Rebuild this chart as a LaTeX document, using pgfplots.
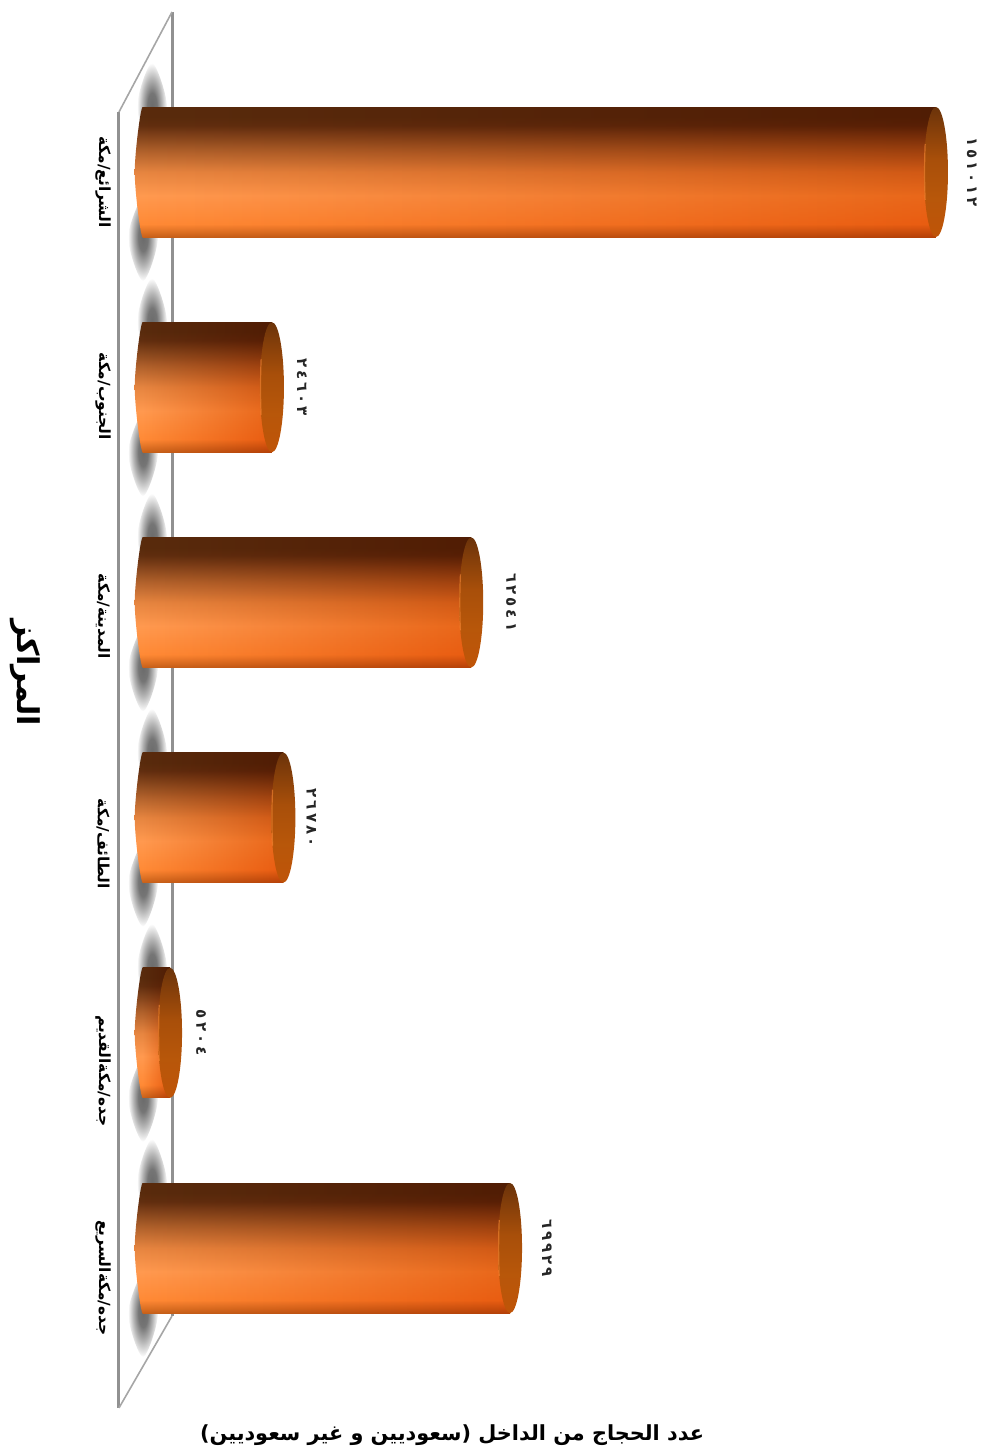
\documentclass[border=0pt]{standalone}
\usepackage{fontspec}
\usepackage{pgfplots}
\usepackage{pgfplotstable}
\pgfplotsset{compat=1.18}
\TeXXeTstate=1
\newfontfamily\arabicfont[Script=Arabic]{DejaVu Sans}
\newfontfamily\numfont[LetterSpace=20]{DejaVu Sans}
\newcommand{\ar}[1]{{\arabicfont\bfseries\beginR #1\endR}}

% 1 px of the reference = 0.5pt here
\pgfdeclareverticalshading{barshade}{100bp}{
  rgb(0bp)=(0.78,0.38,0.10);
  rgb(25bp)=(0.78,0.38,0.10);
  rgb(30bp)=(1.00,0.54,0.21);
  rgb(41bp)=(1.00,0.60,0.31);
  rgb(50bp)=(0.90,0.52,0.25);
  rgb(58bp)=(0.69,0.38,0.17);
  rgb(68bp)=(0.38,0.18,0.06);
  rgb(71bp)=(0.35,0.17,0.05);
  rgb(75bp)=(0.35,0.17,0.05);
  rgb(100bp)=(0.35,0.17,0.05)}
\pgfdeclareverticalshading{capshade}{100bp}{
  rgb(0bp)=(0.75,0.33,0.03);
  rgb(25bp)=(0.75,0.33,0.03);
  rgb(40bp)=(0.72,0.34,0.04);
  rgb(55bp)=(0.66,0.31,0.04);
  rgb(75bp)=(0.42,0.20,0.04);
  rgb(100bp)=(0.42,0.20,0.04)}
\pgfdeclareradialshading{blobshade}{\pgfpoint{0bp}{0bp}}{
  rgb(0bp)=(0.42,0.42,0.42);
  rgb(8bp)=(0.46,0.46,0.46);
  rgb(16bp)=(0.70,0.70,0.70);
  rgb(25bp)=(1,1,1);
  rgb(50bp)=(1,1,1)}

\newcommand{\capmark}{\tikz\path[draw=none, shading=capshade] (0,0) ellipse [x radius=6pt, y radius=32.5pt];}
\pgfdeclareplotmark{rim}{\draw[line width=0.6pt, color={rgb,1:red,1.0;green,0.55;blue,0.22}, opacity=0.55]
    (-5.4pt,-14pt) .. controls (-5.8pt,-5pt) and (-5.8pt,5pt) .. (-5.4pt,14pt);}

\pgfplotstableread{
v y lbl dx
151012 0 ١٥١٠١٢ 18
24603 1 ٢٤٦٠٣ 15
62541 2 ٦٢٥٤١ 20
26780 3 ٢٦٧٨٠ 14
5204 4 ٥٢٠٤ 15.5
69929 5 ٦٩٩٢٩ 18.5
}\datatable

% one column with the two floor shadows and the round foot under it;
% shapes start inside the column, where the seam of the curve stays hidden
\newcommand{\column}[2]{
  \pgfmathsetmacro\ya{#2-0.5065}\pgfmathsetmacro\yb{#2-0.302}\pgfmathsetmacro\yc{#2-0.0975}
  \pgfmathsetmacro\yd{#2+0.0975}\pgfmathsetmacro\ye{#2+0.302}\pgfmathsetmacro\yf{#2+0.5065}
  \addplot[smooth, draw=none, shading=blobshade] coordinates
    {(1770,\yc) (4626,\yb) (1770,\ya) (-1086,\yb) (1770,\yc)};
  \addplot[smooth, draw=none, shading=blobshade] coordinates
    {(57,\yd) (2913,\ye) (57,\yf) (-2799,\ye) (57,\yd)};
  \addplot[smooth, draw=none, shading=barshade] coordinates
    {(1523,#2) (0,\yb) (-1523,#2) (0,\ye) (1523,#2)};
  \addplot[xbar, bar width=65pt, draw=none, shading=barshade] coordinates {(#1,#2)};
  \addplot[xbar, bar width=65pt, draw=none, left color=white,
    right color={rgb,1:red,0.91;green,0.67;blue,0.32}, blend mode=multiply] coordinates {(#1,#2)};
}

\begin{document}
\begin{tikzpicture}
\path[use as bounding box] (-59.5pt,0) rectangle (435pt,726pt);
\begin{axis}[
  scale only axis,
  width=435pt, height=726pt,
  xmin=-4512, xmax=161108,
  ymin=-0.7993, ymax=5.948,
  y dir=reverse,
  clip=false,
  bar shift=0pt,
  axis line style={draw=none},
  tick style={draw=none},
  xtick=\empty,
  ytick={0,1,2,3,4,5},
  yticklabels={\hspace{10pt}\ar{الشرائع/مكة},\hspace{9pt}\ar{الجنوب/مكة},\hspace{14pt}\ar{المدينة/مكة},\hspace{26pt}\ar{الطائف/مكة},\hspace{38pt}\ar{جده/مكةالقديم},\hspace{30pt}\ar{جده/مكةالسريع}},
  yticklabel style={xshift=-8pt, rotate=-90, anchor=center, font=\fontsize{7.7}{9}\selectfont},
  every axis x label/.style={at={(axis description cs:0.3828,0.0076)}, anchor=base},
  every axis y label/.style={at={(axis description cs:-0.108,0.5366)}, anchor=center, rotate=-90},
  xlabel={\fontsize{10.4}{12}\selectfont\ar{عدد الحجاج من الداخل (سعوديين و غير سعوديين)}},
  ylabel={\fontsize{15}{17}\selectfont\ar{المراكز}},
  text mark as node=false,
]
% floor
\addplot[color=black!43, line width=1.5pt] coordinates {(5578,-0.7435) (5578,5.316)};
\addplot[color=black!43, line width=1.5pt] coordinates {(-4512,-0.279) (-4512,5.743)};
\addplot[color=black!35, line width=0.8pt] coordinates {(-4512,-0.279) (5578,-0.7435)};
\addplot[color=black!35, line width=0.8pt] coordinates {(-4512,5.743) (5578,5.316)};
% columns
\column{151012}{0}
\column{24603}{1}
\column{62541}{2}
\column{26780}{3}
\column{5204}{4}
\column{69929}{5}
\addplot[only marks, mark=text, text mark={\capmark},
  visualization depends on={\thisrow{dx} \as \dx},
  point meta=explicit symbolic,
  nodes near coords,
  every node near coord/.style={xshift=\dx pt, rotate=-90, anchor=center,
    font=\fontsize{7.5}{8}\selectfont\numfont\bfseries, text=black!85},
] table[x=v, y=y, meta=lbl] {\datatable};
\addplot[only marks, mark=rim] table[x=v, y=y] {\datatable};
\end{axis}
\end{tikzpicture}
\end{document}
